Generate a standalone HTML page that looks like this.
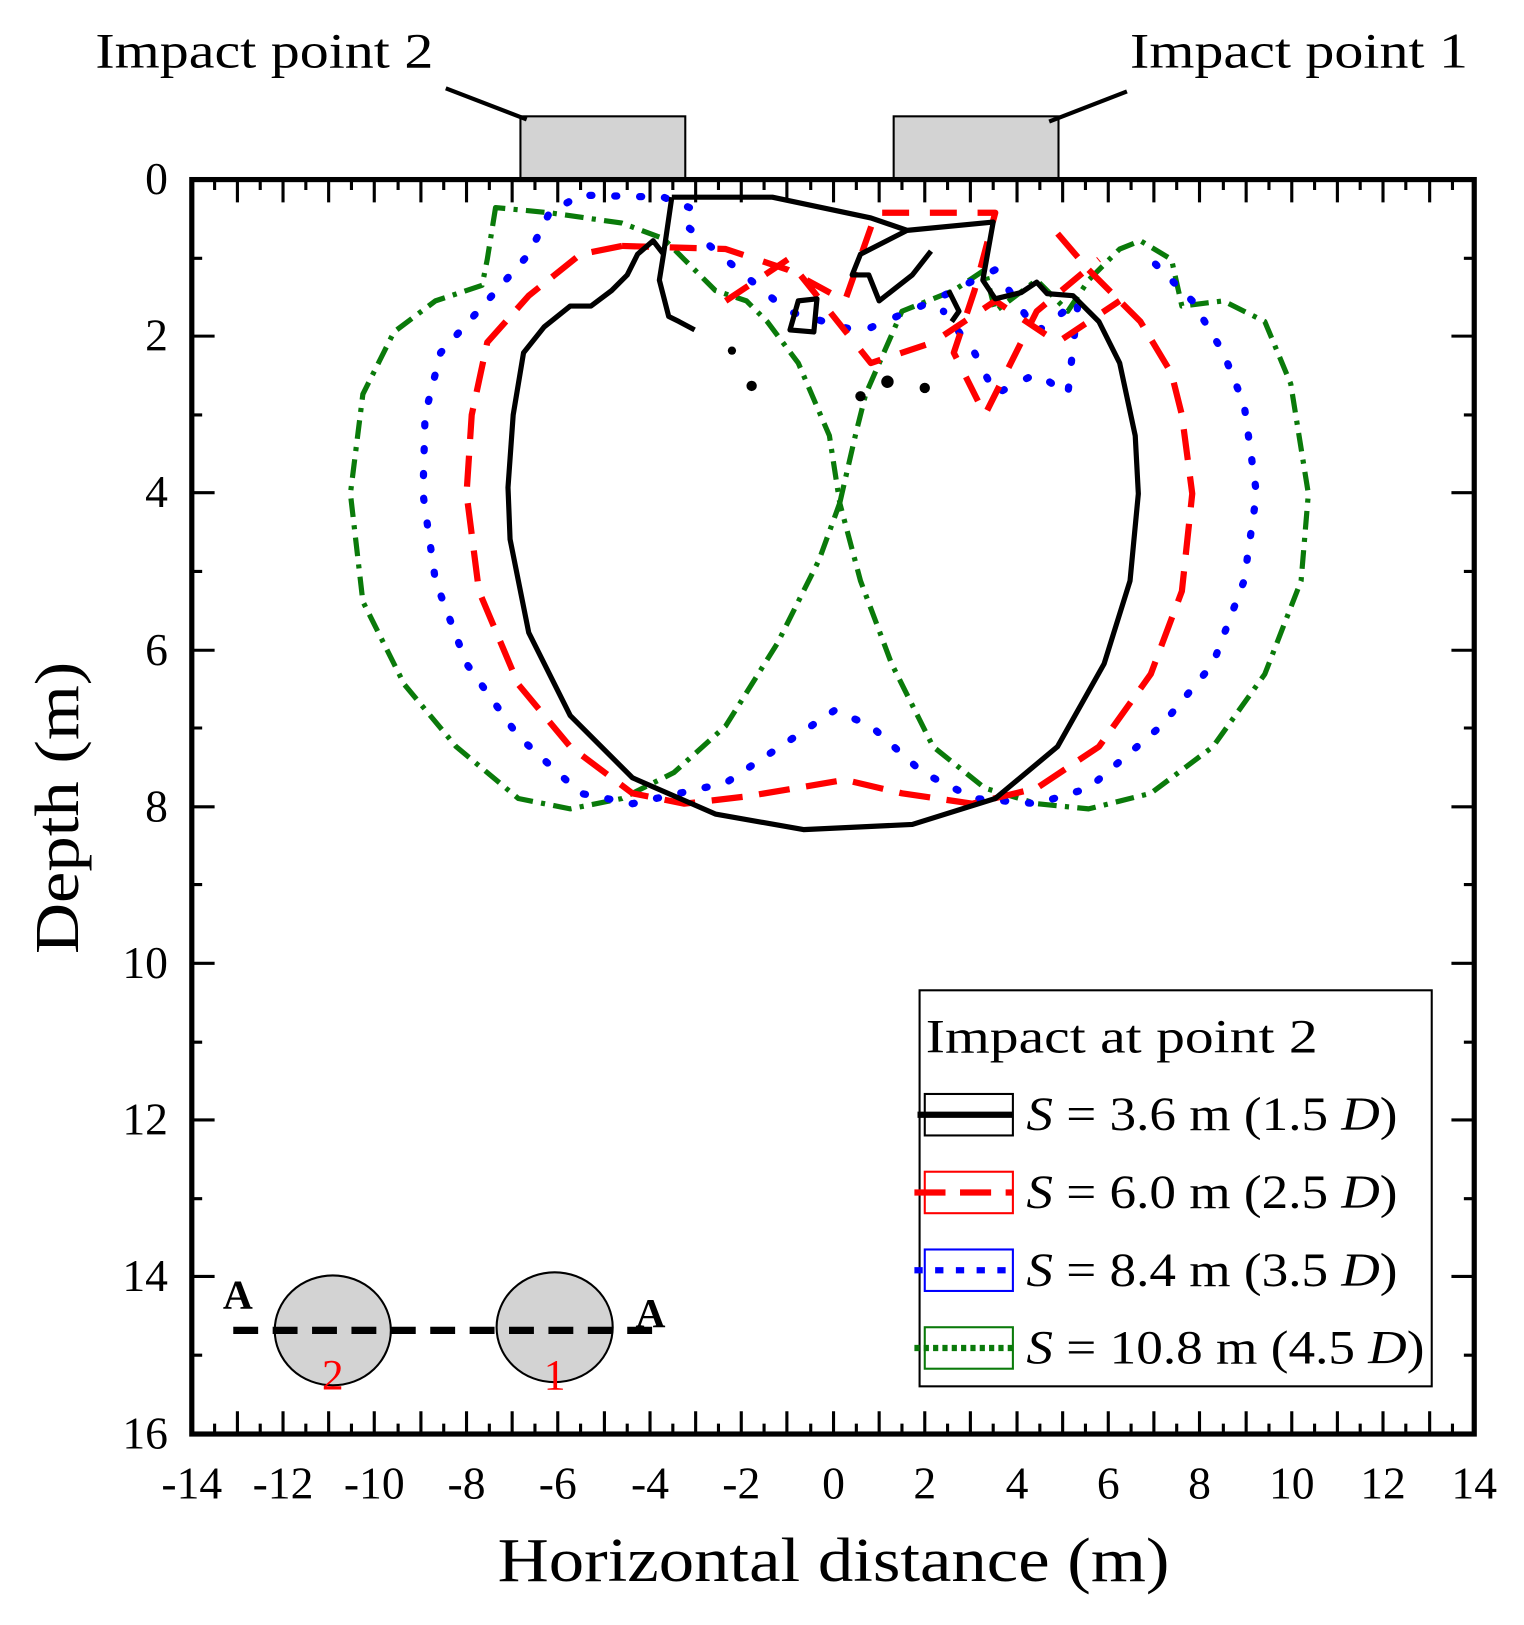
<!DOCTYPE html>
<html><head><meta charset="utf-8"><style>html,body{margin:0;padding:0;background:#fff}svg{display:block}</style></head>
<body>
<svg width="1524" height="1625" viewBox="0 0 1470 1567" xmlns="http://www.w3.org/2000/svg" font-family="Liberation Serif, serif">
<rect width="1470" height="1567" fill="#fff"/>
<rect x="502" y="112" width="159" height="61" fill="#d3d3d3" stroke="#000" stroke-width="2"/>
<rect x="862" y="112" width="159" height="61" fill="#d3d3d3" stroke="#000" stroke-width="2"/>
<line x1="430" y1="85" x2="508" y2="115" stroke="#000" stroke-width="4"/>
<line x1="1087" y1="88" x2="1012" y2="117" stroke="#000" stroke-width="4"/>
<text x="92" y="65" font-size="48" textLength="326" lengthAdjust="spacingAndGlyphs">Impact point 2</text>
<text x="1090" y="65" font-size="48" textLength="326" lengthAdjust="spacingAndGlyphs">Impact point 1</text>

<g fill="none" stroke-linejoin="round">
<path d="M478,200 L470,250 L465,275 L420,290 L380,320 L350,380 L338,476 L350,580 L390,660 L440,720 L500,770 L550,780 L600,770 L650,745 L700,700 L750,620 L790,540 L810,485 L800,420 L770,350 L740,310 L720,290 L690,280 L660,250 L640,230 L600,215 L530,205 Z" stroke="#0a7a0a" stroke-width="5" stroke-dasharray="18,8,4,8"/>
<path d="M810,485 L825,420 L835,380 L870,300 L920,280 L950,260 L960,300 L1000,270 L1030,300 L1050,270 L1080,240 L1100,232 L1130,250 L1140,295 L1180,290 L1220,310 L1245,370 L1262,476 L1255,560 L1220,650 L1170,720 L1110,765 L1050,780 L1000,775 L950,760 L900,720 L860,640 L830,560 Z" stroke="#0a7a0a" stroke-width="5" stroke-dasharray="18,8,4,8"/>
<path d="M665,200 L640,190 L560,188 L530,205 L510,245 L470,290 L425,340 L410,400 L408,476 L420,560 L450,640 L500,710 L560,765 L610,775 L700,755 L760,715 L805,685 L840,700 L890,745 L940,770 L1000,775 L1050,760 L1120,700 L1170,640 L1200,560 L1212,476 L1200,390 L1180,340 L1150,290 L1100,240" stroke="#0000ff" stroke-width="7" stroke-linecap="round" stroke-dasharray="2,22"/>
<path d="M665,220 L700,250 L760,300 L830,320 L900,290 L960,260 L1000,320 L1040,290 L1030,380 L1000,360 L960,380 L940,340 L910,300" stroke="#0000ff" stroke-width="7" stroke-linecap="round" stroke-dasharray="2,24"/>
<path d="M600,237 L560,245 L510,285 L470,330 L455,400 L450,476 L462,570 L500,660 L550,720 L610,765 L660,775 L720,768 L815,752 L870,765 L938,775 L1000,760 L1060,720 L1110,650 L1140,570 L1150,476 L1140,400 L1130,360 L1100,310 L1050,260 L1020,225" stroke="#ff0000" stroke-width="6" stroke-dasharray="30,16"/>
<path d="M600,237 L700,240 L760,260 L815,290 L845,205 L960,205 L940,280 L920,340 L950,400 L1000,300 L1060,250 M700,290 L760,250 L840,350 L900,330 L960,290 L1020,330 L1080,290" stroke="#ff0000" stroke-width="6" stroke-dasharray="26,20"/>
<path d="M648,190 L745,190 L840,210 L875,222 L958,214 L948,270 L960,288 L985,282 L1000,272 L1010,283 L1035,285 L1060,310 L1080,350 L1095,420 L1098,476 L1090,560 L1065,640 L1020,720 L960,770 L880,795 L775,800 L690,785 L610,750 L550,690 L510,610 L492,520 L490,470 L495,400 L505,340 L525,315 L550,295 L570,295 L590,280 L605,265 L615,245 L630,232 L640,245 L636,270 L645,305 L655,310 L670,318 M640,245 L648,190 M875,222 L830,245 L822,265 L838,265 L848,290 L880,265 L898,242" stroke="#000" stroke-width="5"/>
<path d="M770,290 L788,288 L785,320 L762,318 Z M915,280 L925,300 L918,310" stroke="#000" stroke-width="5"/>
</g>
<g fill="#000"><circle cx="706" cy="338" r="4"/><circle cx="725" cy="372" r="5"/><circle cx="856" cy="368" r="6"/><circle cx="892" cy="374" r="5"/><circle cx="830" cy="382" r="5"/></g>

<rect x="185" y="173" width="1237" height="1210" fill="none" stroke="#000" stroke-width="5"/>
<g stroke="#000" stroke-width="3">
<path d="M207,1383v-10M229,1383v-22M251,1383v-10M273,1383v-22M295,1383v-10M317,1383v-22M339,1383v-10M361,1383v-22M384,1383v-10M406,1383v-22M428,1383v-10M450,1383v-22M472,1383v-10M494,1383v-22M516,1383v-10M538,1383v-22M560,1383v-10M583,1383v-22M605,1383v-10M627,1383v-22M649,1383v-10M671,1383v-22M693,1383v-10M715,1383v-22M737,1383v-10M759,1383v-22M782,1383v-10M804,1383v-22M826,1383v-10M848,1383v-22M870,1383v-10M892,1383v-22M914,1383v-10M936,1383v-22M958,1383v-10M981,1383v-22M1003,1383v-10M1025,1383v-22M1047,1383v-10M1069,1383v-22M1091,1383v-10M1113,1383v-22M1135,1383v-10M1157,1383v-22M1180,1383v-10M1202,1383v-22M1224,1383v-10M1246,1383v-22M1268,1383v-10M1290,1383v-22M1312,1383v-10M1334,1383v-22M1356,1383v-10M1379,1383v-22M1401,1383v-10"/>
<path d="M207,173v10M229,173v22M251,173v10M273,173v22M295,173v10M317,173v22M339,173v10M361,173v22M384,173v10M406,173v22M428,173v10M450,173v22M472,173v10M494,173v22M516,173v10M538,173v22M560,173v10M583,173v22M605,173v10M627,173v22M649,173v10M671,173v22M693,173v10M715,173v22M737,173v10M759,173v22M782,173v10M804,173v22M826,173v10M848,173v22M870,173v10M892,173v22M914,173v10M936,173v22M958,173v10M981,173v22M1003,173v10M1025,173v22M1047,173v10M1069,173v22M1091,173v10M1113,173v22M1135,173v10M1157,173v22M1180,173v10M1202,173v22M1224,173v10M1246,173v22M1268,173v10M1290,173v22M1312,173v10M1334,173v22M1356,173v10M1379,173v22M1401,173v10"/>
<path d="M185,249h10M185,324h22M185,400h10M185,475h22M185,551h10M185,627h22M185,702h10M185,778h22M185,853h10M185,929h22M185,1005h10M185,1080h22M185,1156h10M185,1231h22M185,1307h10"/>
<path d="M1422,249h-10M1422,324h-22M1422,400h-10M1422,475h-22M1422,551h-10M1422,627h-22M1422,702h-10M1422,778h-22M1422,853h-10M1422,929h-22M1422,1005h-10M1422,1080h-22M1422,1156h-10M1422,1231h-22M1422,1307h-10"/>
</g>
<g font-size="44" text-anchor="end">
<text x="162" y="187">0</text><text x="162" y="338">2</text><text x="162" y="489">4</text><text x="162" y="641">6</text><text x="162" y="792">8</text><text x="162" y="943">10</text><text x="162" y="1094">12</text><text x="162" y="1245">14</text><text x="162" y="1397">16</text>
</g>
<g font-size="44" text-anchor="middle">
<text x="185" y="1445">-14</text><text x="273" y="1445">-12</text><text x="361" y="1445">-10</text><text x="450" y="1445">-8</text><text x="538" y="1445">-6</text><text x="627" y="1445">-4</text><text x="715" y="1445">-2</text><text x="804" y="1445">0</text><text x="892" y="1445">2</text><text x="981" y="1445">4</text><text x="1069" y="1445">6</text><text x="1157" y="1445">8</text><text x="1246" y="1445">10</text><text x="1334" y="1445">12</text><text x="1422" y="1445">14</text>
</g>
<text x="480" y="1525" font-size="60" textLength="648" lengthAdjust="spacingAndGlyphs">Horizontal distance (m)</text>
<text transform="translate(75,920) rotate(-90)" font-size="60" textLength="282" lengthAdjust="spacingAndGlyphs">Depth (m)</text>

<ellipse cx="321" cy="1283" rx="56" ry="53" fill="#d3d3d3" stroke="#000" stroke-width="2"/>
<ellipse cx="535" cy="1280" rx="56" ry="53" fill="#d3d3d3" stroke="#000" stroke-width="2"/>
<line x1="225" y1="1283" x2="640" y2="1283" stroke="#000" stroke-width="7" stroke-dasharray="24,14"/>
<text x="215" y="1262" font-size="40" font-weight="bold">A</text>
<text x="613" y="1280" font-size="40" font-weight="bold">A</text>
<text x="321" y="1340" font-size="42" fill="#f00" text-anchor="middle">2</text>
<text x="535" y="1340" font-size="42" fill="#f00" text-anchor="middle">1</text>

<rect x="887" y="955" width="494" height="382" fill="#fff" stroke="#000" stroke-width="2"/>
<text x="893" y="1015" font-size="46" textLength="378" lengthAdjust="spacingAndGlyphs">Impact at point 2</text>
<rect x="892" y="1055" width="85" height="40" fill="none" stroke="#000" stroke-width="2"/>
<line x1="885" y1="1075" x2="977" y2="1075" stroke="#000" stroke-width="6"/>
<rect x="892" y="1130" width="85" height="40" fill="none" stroke="#f00" stroke-width="2"/>
<line x1="882" y1="1150" x2="977" y2="1150" stroke="#f00" stroke-width="6" stroke-dasharray="30,14"/>
<rect x="892" y="1205" width="85" height="40" fill="none" stroke="#00f" stroke-width="2"/>
<line x1="882" y1="1225" x2="977" y2="1225" stroke="#00f" stroke-width="6" stroke-dasharray="8,12"/>
<rect x="892" y="1280" width="85" height="40" fill="none" stroke="#0a7a0a" stroke-width="2"/>
<line x1="882" y1="1300" x2="977" y2="1300" stroke="#0a7a0a" stroke-width="6" stroke-dasharray="5,4"/>
<g font-size="46">
<text x="990" y="1090" textLength="358" lengthAdjust="spacingAndGlyphs"><tspan font-style="italic">S</tspan> = 3.6 m (1.5 <tspan font-style="italic">D</tspan>)</text>
<text x="990" y="1165" textLength="358" lengthAdjust="spacingAndGlyphs"><tspan font-style="italic">S</tspan> = 6.0 m (2.5 <tspan font-style="italic">D</tspan>)</text>
<text x="990" y="1240" textLength="358" lengthAdjust="spacingAndGlyphs"><tspan font-style="italic">S</tspan> = 8.4 m (3.5 <tspan font-style="italic">D</tspan>)</text>
<text x="990" y="1315" textLength="384" lengthAdjust="spacingAndGlyphs"><tspan font-style="italic">S</tspan> = 10.8 m (4.5 <tspan font-style="italic">D</tspan>)</text>
</g>
</svg>
</body></html>
